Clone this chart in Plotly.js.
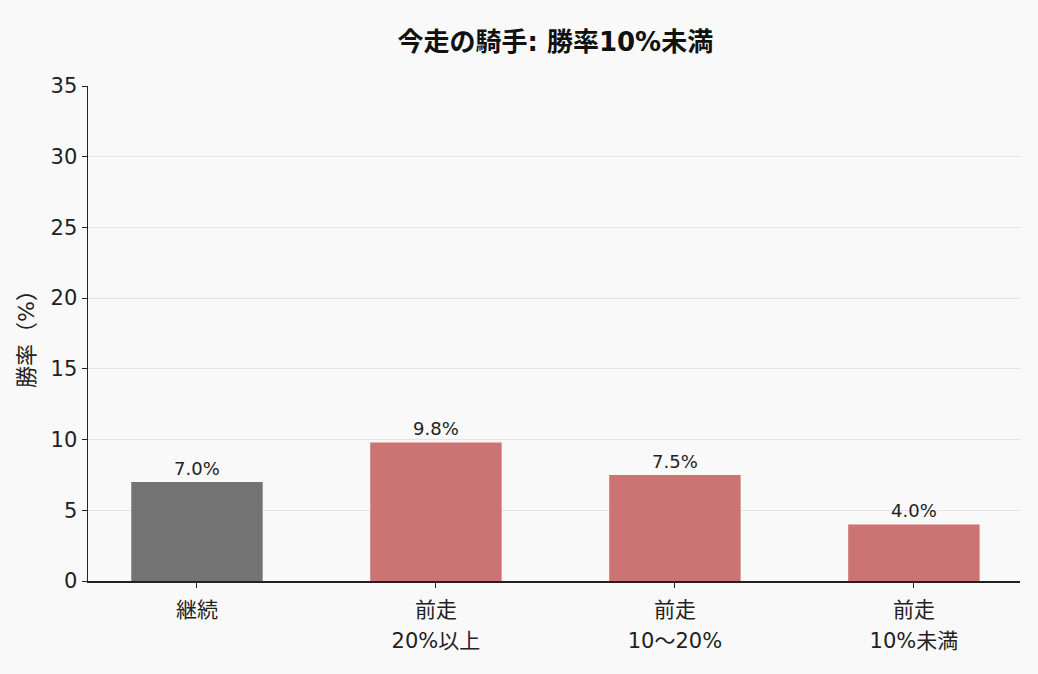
<!DOCTYPE html>
<html>
<head>
<meta charset="utf-8">
<script src="https://cdn.plot.ly/plotly-3.0.1.min.js"></script>
<style>
  html, body { margin: 0; padding: 0; background: #f9f9f9; }
  #graph { width: 1038px; height: 674px; }
</style>
</head>
<body>
<div id="graph"></div>
<script>
// two tick label lines are kept apart so they can sit on two axes (wider line gap)
const categories = ['継続', '前走', '前走', '前走']
const subLabels = ['', '20%以上', '10～20%', '10%未満']
const winRates = [7.0, 9.8, 7.5, 4.0]
const barColors = ['#737373', '#cc7373', '#cc7373', '#cc7373']
const yTicks = [0, 5, 10, 15, 20, 25, 30, 35]
const positions = [0, 1, 2, 3]

// wide latin digits first, japanese glyphs fall back to Noto CJK
const font = '"DejaVu Sans", "Noto Sans CJK JP", sans-serif'

Plotly.newPlot(
  'graph',
  [
    {
      x: positions,
      y: winRates,
      type: 'bar',
      width: 0.55,
      marker: { color: barColors },
      text: winRates.map(v => v.toFixed(1) + '%'),
      textposition: 'outside',
      cliponaxis: false,
      textfont: { family: font, size: 18, color: '#222' },
      hoverinfo: 'none'
    },
    {
      x: [],
      y: [],
      type: 'bar',
      xaxis: 'x2',
      hoverinfo: 'none'
    }
  ],
  {
    width: 1038,
    height: 674,
    paper_bgcolor: '#f9f9f9',
    plot_bgcolor: '#f9f9f9',
    font: { family: font, color: '#222' },
    margin: { l: 88, r: 18, t: 86, b: 93 },
    title: {
      text: '<b>今走の騎手: 勝率10%未満</b>',
      font: { family: font, size: 26, color: '#111' },
      x: 0.535,
      xanchor: 'center',
      y: 0.938,
      yanchor: 'middle'
    },
    showlegend: false,
    xaxis: {
      tickmode: 'array',
      tickvals: positions,
      ticktext: categories,
      range: [-0.456, 3.444],
      showgrid: false,
      zeroline: false,
      showline: true,
      linecolor: '#222',
      linewidth: 1.5,
      ticks: 'outside',
      ticklen: 5,
      tickcolor: '#222',
      ticklabelstandoff: 4,
      tickfont: { family: font, size: 21, color: '#222' },
      fixedrange: true
    },
    xaxis2: {
      overlaying: 'x',
      anchor: 'y',
      side: 'bottom',
      matches: 'x',
      tickmode: 'array',
      tickvals: positions,
      ticktext: subLabels,
      range: [-0.456, 3.444],
      showgrid: false,
      zeroline: false,
      showline: false,
      ticks: 'outside',
      ticklen: 5,
      tickcolor: 'rgba(0,0,0,0)',
      ticklabelstandoff: 36,
      tickfont: { family: font, size: 21, color: '#222' },
      fixedrange: true
    },
    yaxis: {
      range: [0, 35],
      tickmode: 'array',
      tickvals: yTicks,
      showgrid: true,
      gridcolor: '#e4e4e4',
      gridwidth: 1,
      zeroline: false,
      showline: true,
      linecolor: '#222',
      linewidth: 1.5,
      ticks: 'outside',
      ticklen: 5,
      tickcolor: '#222',
      tickfont: { family: font, size: 21, color: '#222' },
      title: { text: '勝率（%）', font: { family: font, size: 22, color: '#222' }, standoff: 10 },
      fixedrange: true
    }
  },
  { staticPlot: true, displayModeBar: false }
)
</script>
</body>
</html>
